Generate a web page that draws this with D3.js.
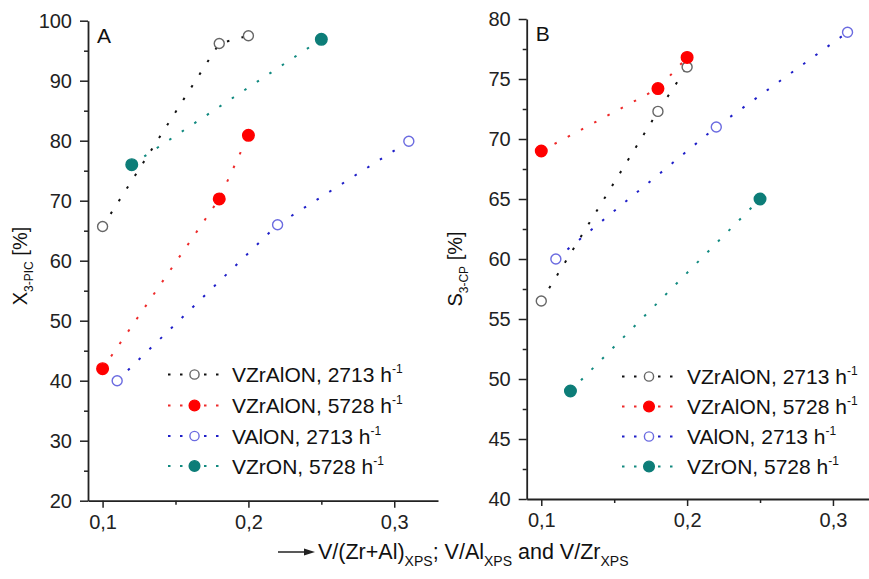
<!DOCTYPE html>
<html>
<head>
<meta charset="utf-8">
<script src="https://cdn.jsdelivr.net/npm/d3@7"></script>
<style>
  html, body { margin: 0; padding: 0; background: #fff; }
  svg { display: block; font-family: "Liberation Sans", Arial, Helvetica, sans-serif; }
</style>
</head>
<body>
<svg id="chart" width="869" height="579"></svg>
<script>
// ---------------- DATA ----------------
const seriesLabels = ["VZrAlON, 2713 h", "VZrAlON, 5728 h", "VAlON, 2713 h", "VZrON, 5728 h"];
const xVZrAlON = [0.10, 0.18, 0.20];
const xVAlON   = [0.11, 0.22, 0.31];
const xVZrON   = [0.12, 0.25];

// Panel A: conversion X(3-PIC) [%]
const convVZrAlON2713 = [65.7, 96.2, 97.5];
const convVZrAlON5728 = [42.0, 70.3, 80.9];
const convVAlON2713   = [40.0, 66.0, 79.9];
const convVZrON5728   = [76.0, 96.9];

// Panel B: selectivity S(3-CP) [%]
const selVZrAlON2713 = [56.5, 72.3, 76.0];
const selVZrAlON5728 = [69.0, 74.2, 76.8];
const selVAlON2713   = [60.0, 71.0, 78.9];
const selVZrON5728   = [49.0, 65.0];

const xMajorTicks = [0.1, 0.2, 0.3];
const xMinorTicks = [0.15, 0.25];
const yAMajorTicks = [20, 30, 40, 50, 60, 70, 80, 90, 100];
const yAMinorTicks = [25, 35, 45, 55, 65, 75, 85, 95];
const yBMajorTicks = [40, 45, 50, 55, 60, 65, 70, 75, 80];
const yBMinorTicks = [42.5, 47.5, 52.5, 57.5, 62.5, 67.5, 72.5, 77.5];

// ---------------- STYLES ----------------
const styles = [
  { line: "#111111", stroke: "#666666", fill: "#ffffff", r: 5 },
  { line: "#ee2a2a", stroke: "#ff0000", fill: "#ff0000", r: 5.8 },
  { line: "#1f1fc8", stroke: "#6b6be0", fill: "#ffffff", r: 5 },
  { line: "#128a80", stroke: "#0d7d78", fill: "#0d7d78", r: 5.8 }
];

const svg = d3.select("#chart");
const fmt = d => d.toFixed(1).replace(".", ",");

function drawPanel(cfg) {
  const x = d3.scaleLinear().domain([0.09, 0.33]).range([cfg.left, cfg.left + 350]);
  const y = d3.scaleLinear().domain(cfg.ydomain).range([cfg.bottom, cfg.top]);
  const g = svg.append("g");

  // minor ticks
  g.append("g").attr("transform", `translate(0,${cfg.bottom})`)
    .call(d3.axisBottom(x).tickValues(xMinorTicks).tickSize(4).tickFormat(""))
    .call(s => s.select(".domain").remove());
  g.append("g").attr("transform", `translate(${cfg.left},0)`)
    .call(d3.axisLeft(y).tickValues(cfg.yMinor).tickSize(4).tickFormat(""))
    .call(s => s.select(".domain").remove());

  // major axes
  g.append("g").attr("transform", `translate(0,${cfg.bottom})`)
    .call(d3.axisBottom(x).tickValues(xMajorTicks).tickSize(7).tickSizeOuter(0).tickPadding(7).tickFormat(fmt));
  g.append("g").attr("transform", `translate(${cfg.left},0)`)
    .call(d3.axisLeft(y).tickValues(cfg.yMajor).tickSize(8).tickSizeOuter(0).tickPadding(8).tickFormat(d3.format("d")));

  g.selectAll(".tick text").attr("font-size", 20).attr("fill", "#222")
    .attr("font-family", '"Liberation Sans", Arial, sans-serif');
  g.selectAll(".tick line").attr("stroke", "#222").attr("stroke-width", 1.5);
  g.selectAll(".domain").attr("stroke", "#222").attr("stroke-width", 1.8);

  // series
  const line = d3.line().x(d => x(d[0])).y(d => y(d[1]));
  cfg.series.forEach((s, i) => {
    const pts = s.xs.map((v, k) => [v, s.ys[k]]);
    g.append("path").datum(pts)
      .attr("d", line).attr("fill", "none")
      .attr("stroke", styles[i].line).attr("stroke-width", 2)
      .attr("stroke-dasharray", "2.5,12.5");
  });
  cfg.series.forEach((s, i) => {
    const pts = s.xs.map((v, k) => [v, s.ys[k]]);
    g.selectAll(null).data(pts).enter().append("circle")
      .attr("cx", d => x(d[0])).attr("cy", d => y(d[1]))
      .attr("r", styles[i].r)
      .attr("fill", styles[i].fill)
      .attr("stroke", styles[i].stroke).attr("stroke-width", 1.4);
  });

  // panel letter
  g.append("text").attr("x", cfg.left + 9).attr("y", cfg.top + 22)
    .attr("font-size", 21).attr("fill", "#111").text(cfg.letter);

  // y label
  const yl = g.append("text")
    .attr("transform", `translate(${cfg.ylabelX},${cfg.ylabelY}) rotate(-90)`)
    .attr("text-anchor", "middle").attr("font-size", 20).attr("fill", "#111");
  yl.append("tspan").text(cfg.ylabelMain);
  yl.append("tspan").attr("font-size", 12).attr("dy", 6).text(cfg.ylabelSub);
  yl.append("tspan").attr("dy", -6).text(" [%]");

  // legend
  cfg.legendRows.forEach((ry, i) => {
    const lg = g.append("g");
    lg.append("line").attr("x1", cfg.legendX1).attr("x2", cfg.legendX2)
      .attr("y1", ry).attr("y2", ry)
      .attr("stroke", styles[i].line).attr("stroke-width", 2)
      .attr("stroke-dasharray", "2.5,9.5");
    lg.append("circle").attr("cx", (cfg.legendX1 + cfg.legendX2) / 2).attr("cy", ry)
      .attr("r", styles[i].r * 0.92)
      .attr("fill", styles[i].fill).attr("stroke", styles[i].stroke).attr("stroke-width", 1.4);
    const t = lg.append("text").attr("x", cfg.legendText).attr("y", ry).attr("dy", "0.36em")
      .attr("font-size", 21).attr("fill", "#111");
    t.append("tspan").text(seriesLabels[i]);
    t.append("tspan").attr("font-size", 12).attr("dy", -9).text("-1");
  });
}

drawPanel({
  letter: "A", left: 88, top: 20.7, bottom: 500.7, ydomain: [20, 100],
  yMajor: yAMajorTicks, yMinor: yAMinorTicks,
  ylabelX: 27, ylabelY: 266, ylabelMain: "X", ylabelSub: "3-PIC",
  legendRows: [374.5, 405.5, 436, 466], legendX1: 168, legendX2: 221, legendText: 232,
  series: [
    { xs: xVZrAlON, ys: convVZrAlON2713 },
    { xs: xVZrAlON, ys: convVZrAlON5728 },
    { xs: xVAlON,   ys: convVAlON2713 },
    { xs: xVZrON,   ys: convVZrON5728 }
  ]
});

drawPanel({
  letter: "B", left: 526.7, top: 19, bottom: 499, ydomain: [40, 80],
  yMajor: yBMajorTicks, yMinor: yBMinorTicks,
  ylabelX: 462, ylabelY: 269, ylabelMain: "S", ylabelSub: "3-CP",
  legendRows: [376.5, 406.5, 436.5, 466.5], legendX1: 622, legendX2: 676, legendText: 687,
  series: [
    { xs: xVZrAlON, ys: selVZrAlON2713 },
    { xs: xVZrAlON, ys: selVZrAlON5728 },
    { xs: xVAlON,   ys: selVAlON2713 },
    { xs: xVZrON,   ys: selVZrON5728 }
  ]
});

// bottom axis title with arrow
const bt = svg.append("g");
bt.append("line").attr("x1", 278).attr("x2", 306).attr("y1", 552).attr("y2", 552)
  .attr("stroke", "#222").attr("stroke-width", 1.5);
bt.append("path").attr("d", "M304,548.5 L315,552 L304,555.5 Z").attr("fill", "#222");
const tt = bt.append("text").attr("x", 318).attr("y", 559).attr("font-size", 21.5).attr("fill", "#111");
tt.append("tspan").text("V/(Zr+Al)");
tt.append("tspan").attr("font-size", 14).attr("dy", 7).text("XPS");
tt.append("tspan").attr("dy", -7).text("; V/Al");
tt.append("tspan").attr("font-size", 14).attr("dy", 7).text("XPS");
tt.append("tspan").attr("dy", -7).text(" and V/Zr");
tt.append("tspan").attr("font-size", 14).attr("dy", 7).text("XPS");
</script>
</body>
</html>
